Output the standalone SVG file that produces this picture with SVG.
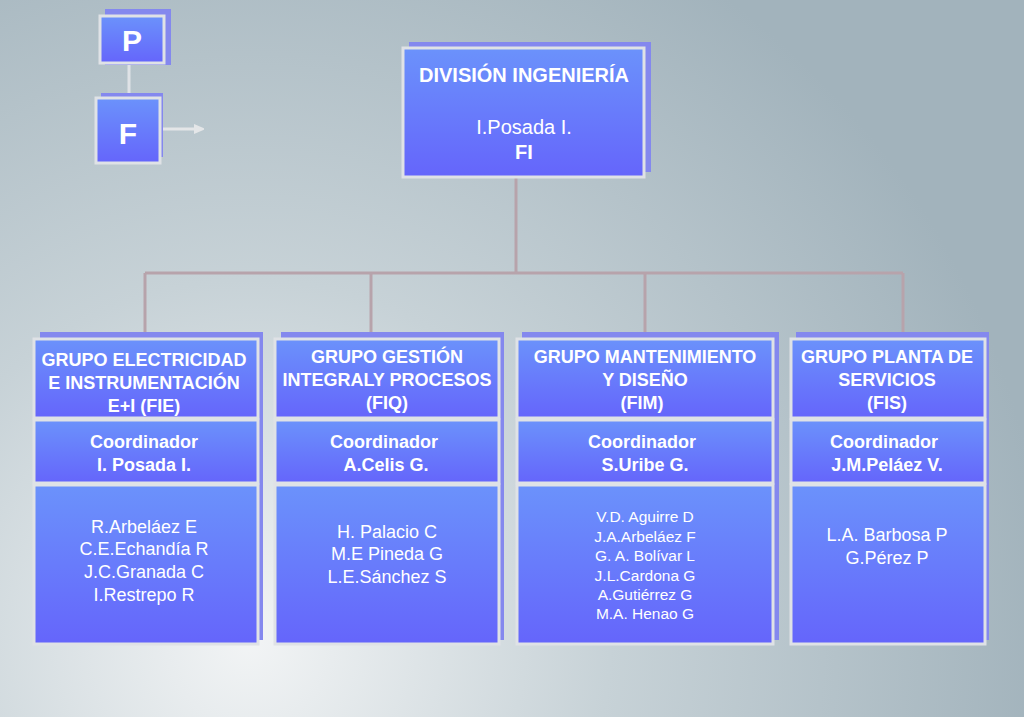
<svg xmlns="http://www.w3.org/2000/svg" width="1024" height="717" viewBox="0 0 1024 717">
<defs>
<radialGradient id="bg" cx="250" cy="640" r="800" gradientUnits="userSpaceOnUse">
<stop offset="0" stop-color="#f2f4f5"/><stop offset="0.45" stop-color="#c7d2d7"/><stop offset="1" stop-color="#a2b3bc"/>
</radialGradient>
<linearGradient id="bx" x1="0" y1="0" x2="0" y2="1">
<stop offset="0" stop-color="#6b92fb"/><stop offset="1" stop-color="#6565fb"/>
</linearGradient>
<marker id="ar" markerWidth="10" markerHeight="10" refX="2" refY="5" orient="auto" markerUnits="userSpaceOnUse"><path d="M0,0 L12,5 L0,10 Z" fill="#e4e6e8"/></marker>
</defs>
<style>
.sh{fill:#8488ee}
.b{fill:url(#bx);stroke:#dfe2e6;stroke-width:3}
.t{font-family:"Liberation Sans",Arial,sans-serif;fill:#fff;text-anchor:middle}
.h{font-weight:bold;font-size:18px}
.n{font-size:18px}
.s{font-size:15.5px}
.c{stroke:#b7a3ab;stroke-width:3;fill:none}
</style>
<rect width="1024" height="717" fill="url(#bg)"/>
<g id="connectors">
<path class="c" d="M516 178V273M145 273H903M145 273V338M371 273V338M645 273V338M903 273V338"/>
<path d="M129 63V99" stroke="#dfe2e6" stroke-width="3"/>
<path d="M163 129H196" stroke="#e4e6e8" stroke-width="3" marker-end="url(#ar)"/>
</g>
<g id="P"><rect class="sh" x="105" y="9" width="66" height="56"/><rect class="b" x="100" y="16" width="64" height="47"/><text class="t" x="132" y="51" font-size="30" font-weight="bold">P</text></g>
<g id="F"><rect class="sh" x="101" y="93" width="62" height="64"/><rect class="b" x="96" y="98" width="64" height="65"/><text class="t" x="128" y="144" font-size="30" font-weight="bold">F</text></g>
<g id="division"><rect class="sh" x="409" y="42" width="242" height="130"/><rect class="b" x="403" y="48" width="241" height="129"/>
<text class="t h" x="524" y="82" font-size="20" style="font-size:20px">DIVISIÓN INGENIERÍA</text><text class="t n" x="524" y="134" style="font-size:20px">I.Posada I.</text><text class="t h" x="524" y="159" style="font-size:20px">FI</text></g>
<g id="fie"><rect class="sh" x="40" y="332" width="223" height="308"/>
<rect class="b" x="34" y="339" width="224" height="79"/><rect class="b" x="34" y="420" width="224" height="63"/><rect class="b" x="34" y="485" width="224" height="159"/>
<text class="t h" x="144" y="366">GRUPO ELECTRICIDAD</text><text class="t h" x="144" y="389">E INSTRUMENTACIÓN</text><text class="t h" x="144" y="412">E+I (FIE)</text>
<text class="t h" x="144" y="448">Coordinador</text><text class="t h" x="144" y="471">I. Posada I.</text>
<text class="t n" x="144" y="533">R.Arbeláez E</text><text class="t n" x="144" y="555">C.E.Echandía R</text><text class="t n" x="144" y="578">J.C.Granada C</text><text class="t n" x="144" y="601">I.Restrepo R</text></g>
<g id="fiq"><rect class="sh" x="281" y="332" width="223" height="308"/>
<rect class="b" x="275" y="339" width="224" height="79"/><rect class="b" x="275" y="420" width="224" height="63"/><rect class="b" x="275" y="485" width="224" height="159"/>
<text class="t h" x="387" y="363">GRUPO GESTIÓN</text><text class="t h" x="387" y="386">INTEGRALY PROCESOS</text><text class="t h" x="387" y="409">(FIQ)</text>
<text class="t h" x="384" y="448">Coordinador</text><text class="t h" x="386" y="471">A.Celis G.</text>
<text class="t n" x="387" y="538">H. Palacio C</text><text class="t n" x="387" y="560">M.E Pineda G</text><text class="t n" x="387" y="583">L.E.Sánchez S</text></g>
<g id="fim"><rect class="sh" x="522" y="332" width="257" height="308"/>
<rect class="b" x="517" y="339" width="256" height="79"/><rect class="b" x="517" y="420" width="256" height="63"/><rect class="b" x="517" y="485" width="256" height="159"/>
<text class="t h" x="645" y="363">GRUPO MANTENIMIENTO</text><text class="t h" x="645" y="386">Y DISEÑO</text><text class="t h" x="642" y="409">(FIM)</text>
<text class="t h" x="642" y="448">Coordinador</text><text class="t h" x="645" y="471">S.Uribe G.</text>
<text class="t s" x="645" y="522">V.D. Aguirre D</text><text class="t s" x="645" y="542">J.A.Arbeláez F</text><text class="t s" x="645" y="561">G. A. Bolívar L</text><text class="t s" x="645" y="581">J.L.Cardona G</text><text class="t s" x="645" y="600">A.Gutiérrez G</text><text class="t s" x="645" y="619">M.A. Henao G</text></g>
<g id="fis"><rect class="sh" x="796" y="332" width="193" height="308"/>
<rect class="b" x="791" y="339" width="194" height="79"/><rect class="b" x="791" y="420" width="194" height="63"/><rect class="b" x="791" y="485" width="194" height="159"/>
<text class="t h" x="887" y="363">GRUPO PLANTA DE</text><text class="t h" x="887" y="386">SERVICIOS</text><text class="t h" x="887" y="409">(FIS)</text>
<text class="t h" x="884" y="448">Coordinador</text><text class="t h" x="887" y="471">J.M.Peláez V.</text>
<text class="t n" x="887" y="541">L.A. Barbosa P</text><text class="t n" x="887" y="564">G.Pérez P</text></g>
</svg>
